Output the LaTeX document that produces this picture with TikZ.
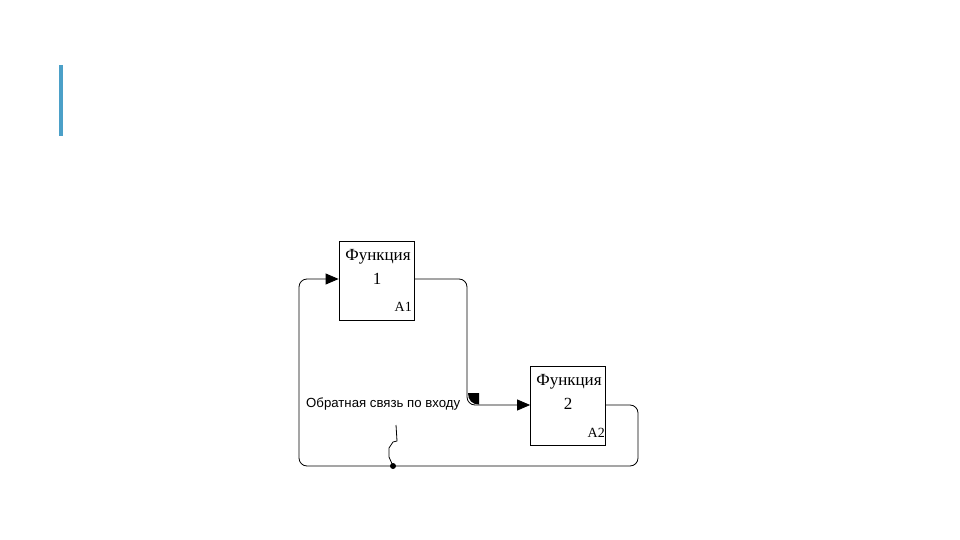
\documentclass[tikz,border=0pt]{standalone}
\usepackage{fontspec}
\setmainfont{Liberation Serif}
\newfontfamily\labelfont{Liberation Sans}
\usetikzlibrary{arrows.meta}
\begin{document}
\begin{tikzpicture}[x=1pt,y=-1pt,
  funcbox/.style={draw, line width=0.8pt, minimum width=75pt, minimum height=79pt, inner sep=0pt},
  conn/.style={line width=0.8pt, rounded corners=8pt},
  arr/.style={-{Triangle[length=13pt,width=11pt]}},
  boxtext/.style={font=\fontsize{17}{22}\selectfont, inner sep=0pt},
  codetext/.style={font=\fontsize{14}{15}\selectfont, inner sep=0pt}]
\useasboundingbox (0,0) rectangle (960,540);
\fill[fill={rgb,255:red,75;green,160;blue,200}] (59,65) rectangle (63,136);

\node[funcbox] (f1) at (376.5,280.5) {};
\node[funcbox] (f2) at (568,405.5) {};
\node[boxtext] (t1a) at (378,257) {Функция};
\node[boxtext] (t1b) at (377,279) {1};
\node[boxtext] (t2a) at (569,382) {Функция};
\node[boxtext] (t2b) at (568,404) {2};
\node[codetext, anchor=east] (c1) at (412,307) {A1};
\node[codetext, anchor=east] (c2) at (605,433) {A2};

\coordinate (o1) at (f1.east |- 0,279);
\coordinate (i1) at (f1.west |- 0,279);
\coordinate (i2) at (f2.west |- 0,405);
\coordinate (o2) at (f2.east |- 0,405);
\coordinate (dot) at (393,466);

\draw[conn, arr] (o1) -- (467,279) -- (467,405) -- (i2);
\fill (468,393) -- (479,393) -- (479,404.5) .. controls (472,404.5) and (468,400) .. cycle;
\draw[conn, arr] (o2) -- (638,405) -- (638,466) -- (299,466) -- (299,279) -- (i1);
\fill (dot) circle (3pt);
\draw[line width=0.8pt] (dot) -- (389,457) -- (389,448) -- (393,442) -- (397,441) -- (396,425);

\node[font=\labelfont\fontsize{13.2}{14}\selectfont, anchor=west, inner sep=0pt] (lbl) at (306,404) {Обратная связь по входу};
\end{tikzpicture}
\end{document}
